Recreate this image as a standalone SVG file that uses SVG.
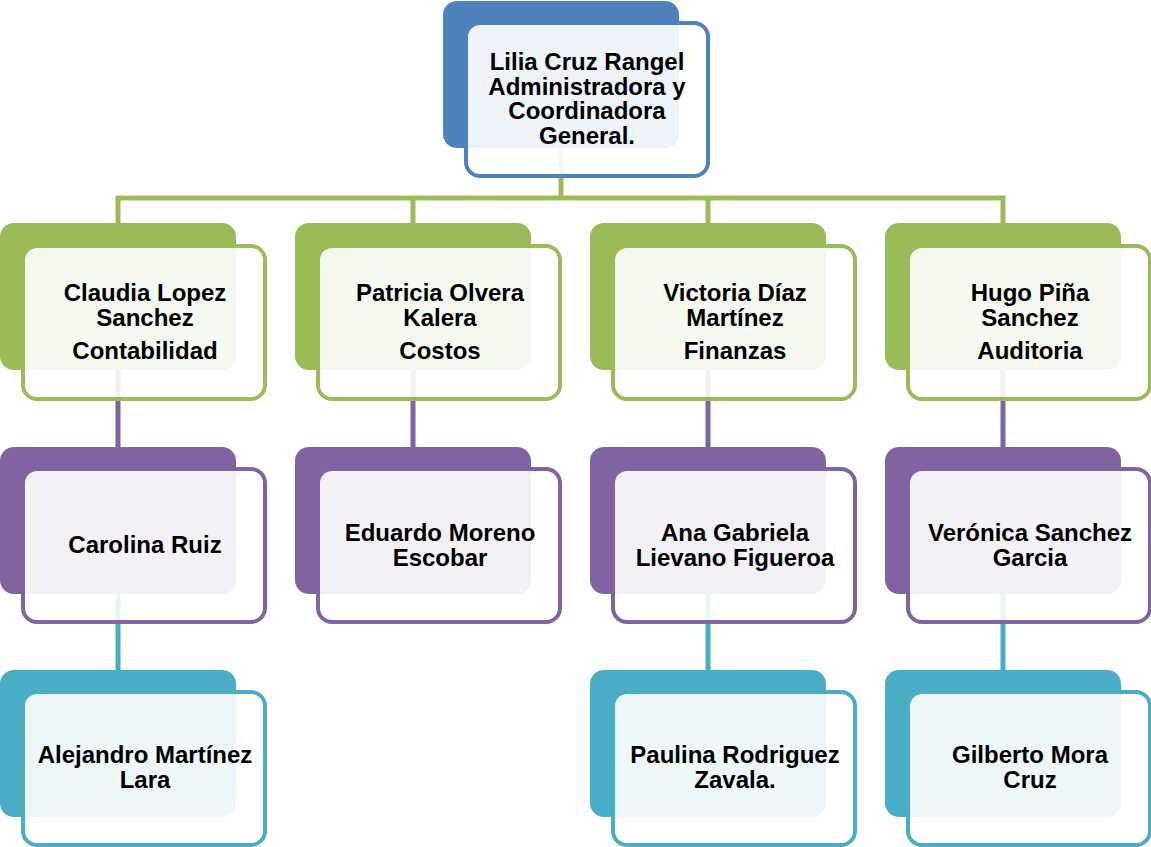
<svg xmlns="http://www.w3.org/2000/svg" width="1151" height="847" viewBox="0 0 1151 847">
<style>
.back{stroke:none}
.front{fill:#ffffff;fill-opacity:0.9;stroke-width:4}
.b .back{fill:#4f81bd}.b .front{stroke:#4f81bd}
.g .back{fill:#9bbb59}.g .front{stroke:#9bbb59}
.p .back{fill:#8064a2}.p .front{stroke:#8064a2}
.t .back{fill:#4bacc6}.t .front{stroke:#4bacc6}
.c{fill:none;stroke-width:5}
text{font-family:"Liberation Sans",Arial,sans-serif;font-weight:bold;font-size:24px;fill:#000;text-anchor:middle}
</style>
<g id="connectors">
<path class="c" stroke="#9bbb59" d="M561 148V198M118 223V198H1003V223M413 198V223M708 198V223"/>
<path class="c" stroke="#8064a2" d="M118 370V447M413 370V447M708 370V447M1003 370V447"/>
<path class="c" stroke="#4bacc6" d="M118 594V670M708 594V670M1003 594V670"/>
</g>
<g id="n0" class="b">
<rect class="back" x="443" y="1" width="236" height="147" rx="14"/>
<rect class="front" x="466" y="23" width="242" height="153" rx="14"/>
<text x="587" y="70">Lilia Cruz Rangel</text>
<text x="587" y="94.5">Administradora y</text>
<text x="587" y="119">Coordinadora</text>
<text x="587" y="143.5">General.</text>
</g>
<g id="n1" class="g">
<rect class="back" x="0" y="223" width="236" height="147" rx="14"/>
<rect class="front" x="23" y="246" width="242" height="153" rx="14"/>
<text x="145" y="300.5">Claudia Lopez</text>
<text x="145" y="325.5">Sanchez</text>
<text x="145" y="359">Contabilidad</text>
</g>
<g id="n2" class="g">
<rect class="back" x="295" y="223" width="236" height="147" rx="14"/>
<rect class="front" x="318" y="246" width="242" height="153" rx="14"/>
<text x="440" y="300.5">Patricia Olvera</text>
<text x="440" y="325.5">Kalera</text>
<text x="440" y="359">Costos</text>
</g>
<g id="n3" class="g">
<rect class="back" x="590" y="223" width="236" height="147" rx="14"/>
<rect class="front" x="613" y="246" width="242" height="153" rx="14"/>
<text x="735" y="300.5">Victoria Díaz</text>
<text x="735" y="325.5">Martínez</text>
<text x="735" y="359">Finanzas</text>
</g>
<g id="n4" class="g">
<rect class="back" x="885" y="223" width="236" height="147" rx="14"/>
<rect class="front" x="908" y="246" width="242" height="153" rx="14"/>
<text x="1030" y="300.5">Hugo Piña</text>
<text x="1030" y="325.5">Sanchez</text>
<text x="1030" y="359">Auditoria</text>
</g>
<g id="n5" class="p">
<rect class="back" x="0" y="447" width="236" height="147" rx="14"/>
<rect class="front" x="23" y="469" width="242" height="153" rx="14"/>
<text x="145" y="553">Carolina Ruiz</text>
</g>
<g id="n6" class="p">
<rect class="back" x="295" y="447" width="236" height="147" rx="14"/>
<rect class="front" x="318" y="469" width="242" height="153" rx="14"/>
<text x="440" y="541">Eduardo Moreno</text>
<text x="440" y="566">Escobar</text>
</g>
<g id="n7" class="p">
<rect class="back" x="590" y="447" width="236" height="147" rx="14"/>
<rect class="front" x="613" y="469" width="242" height="153" rx="14"/>
<text x="735" y="541">Ana Gabriela</text>
<text x="735" y="566">Lievano Figueroa</text>
</g>
<g id="n8" class="p">
<rect class="back" x="885" y="447" width="236" height="147" rx="14"/>
<rect class="front" x="908" y="469" width="242" height="153" rx="14"/>
<text x="1030" y="541">Verónica Sanchez</text>
<text x="1030" y="566">Garcia</text>
</g>
<g id="n9" class="t">
<rect class="back" x="0" y="670" width="236" height="147" rx="14"/>
<rect class="front" x="23" y="692" width="242" height="153" rx="14"/>
<text x="145" y="763">Alejandro Martínez</text>
<text x="145" y="788">Lara</text>
</g>
<g id="n10" class="t">
<rect class="back" x="590" y="670" width="236" height="147" rx="14"/>
<rect class="front" x="613" y="692" width="242" height="153" rx="14"/>
<text x="735" y="763">Paulina Rodriguez</text>
<text x="735" y="788">Zavala.</text>
</g>
<g id="n11" class="t">
<rect class="back" x="885" y="670" width="236" height="147" rx="14"/>
<rect class="front" x="908" y="692" width="242" height="153" rx="14"/>
<text x="1030" y="763">Gilberto Mora</text>
<text x="1030" y="788">Cruz</text>
</g>
</svg>
